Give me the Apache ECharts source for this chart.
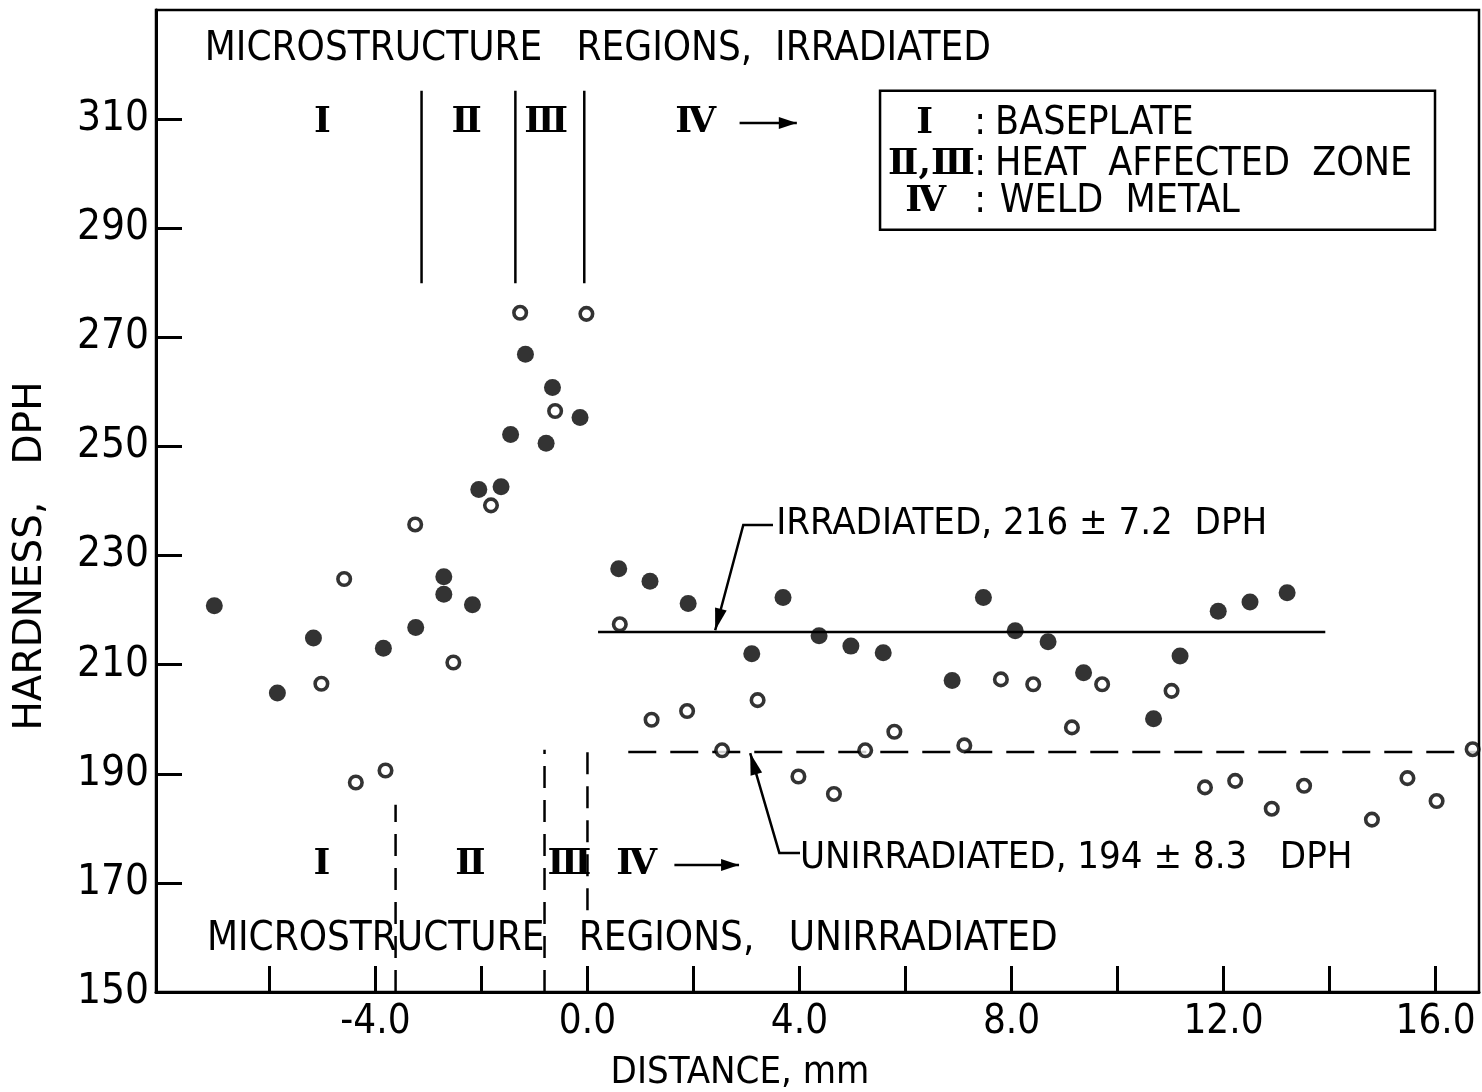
<!DOCTYPE html>
<html><head><meta charset="utf-8">
<script src="https://cdn.jsdelivr.net/npm/echarts@6/dist/echarts.min.js"></script>
<style>html,body{margin:0;padding:0;background:#fff}#c{width:1482px;height:1092px}</style>
</head><body><div id="c"></div>
<script>
const FONT = '"DejaVu Sans Condensed", "DejaVu Sans", sans-serif';
const WIDE_FONT = '"DejaVu Sans", sans-serif';
const NUM_FONT = '"DejaVu Serif", serif';

// axis ranges and ticks
const xMin = -8.14, xMax = 16.82;
const yMin = 150, yMax = 330;
const xTickValues = [-6, -4, -2, 0, 2, 4, 6, 8, 10, 12, 14, 16];
const xLabelValues = [-4, 0, 4, 8, 12, 16];
const yTickValues = [150, 170, 190, 210, 230, 250, 270, 290, 310];

// irradiated (filled circles): [distance mm, hardness DPH]
const irradiated = [
  [-7.04, 220.8], [-5.85, 204.8], [-5.17, 214.9], [-3.85, 213.0], [-3.24, 216.8],
  [-2.71, 226.1], [-2.71, 222.9], [-2.17, 221.0], [-2.05, 242.1], [-1.63, 242.6],
  [-1.45, 252.2], [-1.17, 266.9], [-0.78, 250.6], [-0.66, 260.8], [-0.14, 255.3],
  [0.59, 227.6], [1.18, 225.3], [1.90, 221.2], [3.10, 212.0], [3.69, 222.3],
  [4.37, 215.3], [4.97, 213.4], [5.58, 212.2], [6.88, 207.1], [7.47, 222.3],
  [8.07, 216.2], [8.69, 214.2], [9.36, 208.5], [10.68, 200.1], [11.18, 211.6],
  [11.90, 219.8], [12.50, 221.5], [13.20, 223.2]
];
// unirradiated (open circles)
const unirradiated = [
  [-5.02, 206.5], [-4.59, 225.7], [-4.37, 188.4], [-3.81, 190.6], [-3.25, 235.7],
  [-2.53, 210.4], [-1.82, 239.2], [-1.27, 274.5], [-0.61, 256.5], [-0.02, 274.3],
  [0.61, 217.4], [1.21, 199.9], [1.88, 201.5], [2.54, 194.3], [3.21, 203.5],
  [3.98, 189.5], [4.65, 186.3], [5.24, 194.3], [5.79, 197.7], [7.11, 195.2],
  [7.80, 207.3], [8.41, 206.4], [9.14, 198.5], [9.71, 206.4], [11.02, 205.2],
  [11.65, 187.5], [12.22, 188.7], [12.91, 183.6], [13.52, 187.8], [14.80, 181.6],
  [15.47, 189.2], [16.02, 185.0], [16.70, 194.5]
];

// mean values and extents of mean lines
const irrMean = 216, irrMeanFrom = 0.2, irrMeanTo = 13.92;
const unirrMean = 194, unirrMeanFrom = 0.77, unirrMeanTo = 16.82;

// microstructure region boundaries
const irrBoundX = [-3.13, -1.36, -0.06];
const irrBoundY = [279.9, 315.2];
const unirrBoundX = [-3.62, -0.81, 0.0];
const unirrBoundYTop = [184.3, 194.4, 194.4];
const unirrBoundYBottom = [150, 150, 165];

// region labels
const regionNames = ['\u2160', '\u2161', '\u2162', '\u2163'];
const irrRegionX = [-5.0, -2.28, -0.78, 2.04];
const irrRegionY = 309.3;
const unirrRegionX = [-5.01, -2.21, -0.34, 0.93];
const unirrRegionY = 173.3;

const chart = echarts.init(document.getElementById('c'));

const series = [];
series.push({
  type: 'line', data: [[irrMeanFrom, irrMean], [irrMeanTo, irrMean]], symbol: 'none',
  lineStyle: { color: '#000', width: 2.5 }, z: 2, silent: true
});
series.push({
  type: 'line', data: [[unirrMeanFrom, unirrMean], [unirrMeanTo, unirrMean]], symbol: 'none',
  lineStyle: { color: '#000', width: 2.5, type: [28, 14] }, z: 2, silent: true
});
irrBoundX.forEach(x => series.push({
  type: 'line', data: [[x, irrBoundY[0]], [x, irrBoundY[1]]], symbol: 'none',
  lineStyle: { color: '#000', width: 2.5 }, z: 2, silent: true
}));
unirrBoundX.forEach((x, i) => series.push({
  type: 'line', data: [[x, unirrBoundYBottom[i]], [x, unirrBoundYTop[i]]], symbol: 'none',
  lineStyle: { color: '#000', width: 2.5, type: [22, 12] }, z: 2, silent: true
}));
series.push({
  type: 'scatter', data: irradiated, symbol: 'circle', symbolSize: 17,
  itemStyle: { color: '#000' }, z: 5, silent: true
});
series.push({
  type: 'scatter', data: unirradiated, symbol: 'circle', symbolSize: 12.5,
  itemStyle: { color: '#fff', borderColor: '#000', borderWidth: 3.6 }, z: 6, silent: true
});

chart.setOption({
  animation: false,
  backgroundColor: '#fff',
  grid: { left: 156, right: 3, top: 10, bottom: 100, show: true, borderColor: '#000', borderWidth: 2.5 },
  xAxis: {
    type: 'value', min: xMin, max: xMax, splitLine: { show: false },
    axisLine: { show: true, onZero: false, lineStyle: { color: '#000', width: 3 } },
    axisTick: { show: true, inside: true, length: 26, customValues: xTickValues, lineStyle: { color: '#000', width: 3 } },
    axisLabel: { customValues: xLabelValues, formatter: v => Number(v).toFixed(1), color: '#000', fontFamily: FONT, fontSize: 40, margin: 11 }
  },
  yAxis: {
    type: 'value', min: yMin, max: yMax, splitLine: { show: false },
    axisLine: { show: true, onZero: false, lineStyle: { color: '#000', width: 3 } },
    axisTick: { show: true, inside: true, length: 26, customValues: yTickValues, lineStyle: { color: '#000', width: 3 } },
    axisLabel: { customValues: yTickValues, color: '#000', fontFamily: FONT, fontSize: 42, margin: 7 }
  },
  series: series
});

function px(p) { return chart.convertToPixel({ xAxisIndex: 0, yAxisIndex: 0 }, p); }
function text(t, p, opts) {
  opts = opts || {};
  const align = opts.align || 'left';
  return {
    type: 'text', z: 100, silent: true,
    style: {
      text: t, x: p[0], y: p[1], fill: '#000',
      font: (opts.weight || 'normal') + ' ' + (opts.size || 39) + 'px ' + (opts.family || FONT),
      align: align, textAlign: align, verticalAlign: 'middle', textVerticalAlign: 'middle'
    }
  };
}
function arrowHead(tip, from, len, halfW) {
  const dx = tip[0] - from[0], dy = tip[1] - from[1];
  const d = Math.sqrt(dx * dx + dy * dy);
  const ux = dx / d, uy = dy / d;
  const bx = tip[0] - ux * len, by = tip[1] - uy * len;
  return {
    type: 'polygon', z: 100, silent: true,
    shape: { points: [tip, [bx - uy * halfW, by + ux * halfW], [bx + uy * halfW, by - ux * halfW]] },
    style: { fill: '#000' }
  };
}
function poly(points, w) {
  return { type: 'polyline', z: 100, silent: true, shape: { points: points }, style: { stroke: '#000', lineWidth: w || 2.5, fill: null } };
}

const g = [];
// titles inside plot
g.push(text('MICROSTRUCTURE   REGIONS,  IRRADIATED', px([-7.22, 322.7]), { size: 40 }));
g.push(text('MICROSTRUCTURE   REGIONS,   UNIRRADIATED', px([-7.18, 159.6]), { size: 40 }));
// region numerals
const numOpts = { align: 'center', family: NUM_FONT, weight: 'bold', size: 36 };
regionNames.forEach((n, i) => {
  g.push(text(n, px([irrRegionX[i], irrRegionY]), numOpts));
  g.push(text(n, px([unirrRegionX[i], unirrRegionY]), numOpts));
});
// region arrows
let a0 = px([2.87, irrRegionY]), a1 = px([3.95, irrRegionY]);
g.push(poly([a0, a1])); g.push(arrowHead(a1, a0, 18, 6));
a0 = px([1.64, unirrRegionY]); a1 = px([2.86, unirrRegionY]);
g.push(poly([a0, a1])); g.push(arrowHead(a1, a0, 18, 6));

// legend box
const b0 = px([5.52, 315.2]), b1 = px([15.99, 289.7]);
g.push({ type: 'rect', z: 100, silent: true, shape: { x: b0[0], y: b0[1], width: b1[0] - b0[0], height: b1[1] - b0[1] }, style: { fill: 'none', stroke: '#000', lineWidth: 2.5 } });
const legY = [309.1, 301.6, 294.9];
const legNum = ['\u2160', '\u2161,\u2162', '\u2163'];
const legNumX = [6.36, 6.49, 6.38];
const legText = ['BASEPLATE', 'HEAT  AFFECTED  ZONE', 'WELD  METAL'];
const legTextX = [7.69, 7.69, 7.78];
legY.forEach((y, i) => {
  g.push(text(legNum[i], px([legNumX[i], y]), numOpts));
  g.push(text(':', px([7.41, y]), { align: 'center' }));
  g.push(text(legText[i], px([legTextX[i], y])));
});

// mean annotations
g.push(text('IRRADIATED, 216 \u00b1 7.2  DPH', px([3.56, 235.8]), { size: 38 }));
g.push(text('UNIRRADIATED, 194 \u00b1 8.3   DPH', px([4.01, 174.6]), { size: 38 }));
let p1 = px([3.50, 235.6]), p2 = px([2.94, 235.6]), p3 = px([2.41, 216.3]);
g.push(poly([p1, p2, p3])); g.push(arrowHead(p3, p2, 22, 6));
p1 = px([3.07, 193.8]); p2 = px([3.62, 175.5]); p3 = px([4.01, 175.5]);
g.push(poly([p3, p2, p1])); g.push(arrowHead(p1, p2, 22, 6));

// axis titles
g.push({ type: 'text', z: 100, silent: true, rotation: Math.PI / 2, x: 31, y: 556,
  style: { text: 'HARDNESS,   DPH', x: 0, y: 0, fill: '#000', font: '39px ' + WIDE_FONT, align: 'center', textAlign: 'center', verticalAlign: 'middle', textVerticalAlign: 'middle' } });
g.push({ type: 'text', z: 100, silent: true, x: 740, y: 1073,
  style: { text: 'DISTANCE, mm', x: 0, y: 0, fill: '#000', font: '38px ' + FONT, align: 'center', textAlign: 'center', verticalAlign: 'middle', textVerticalAlign: 'middle' } });

chart.setOption({ graphic: { elements: g } });
</script>
</body></html>
